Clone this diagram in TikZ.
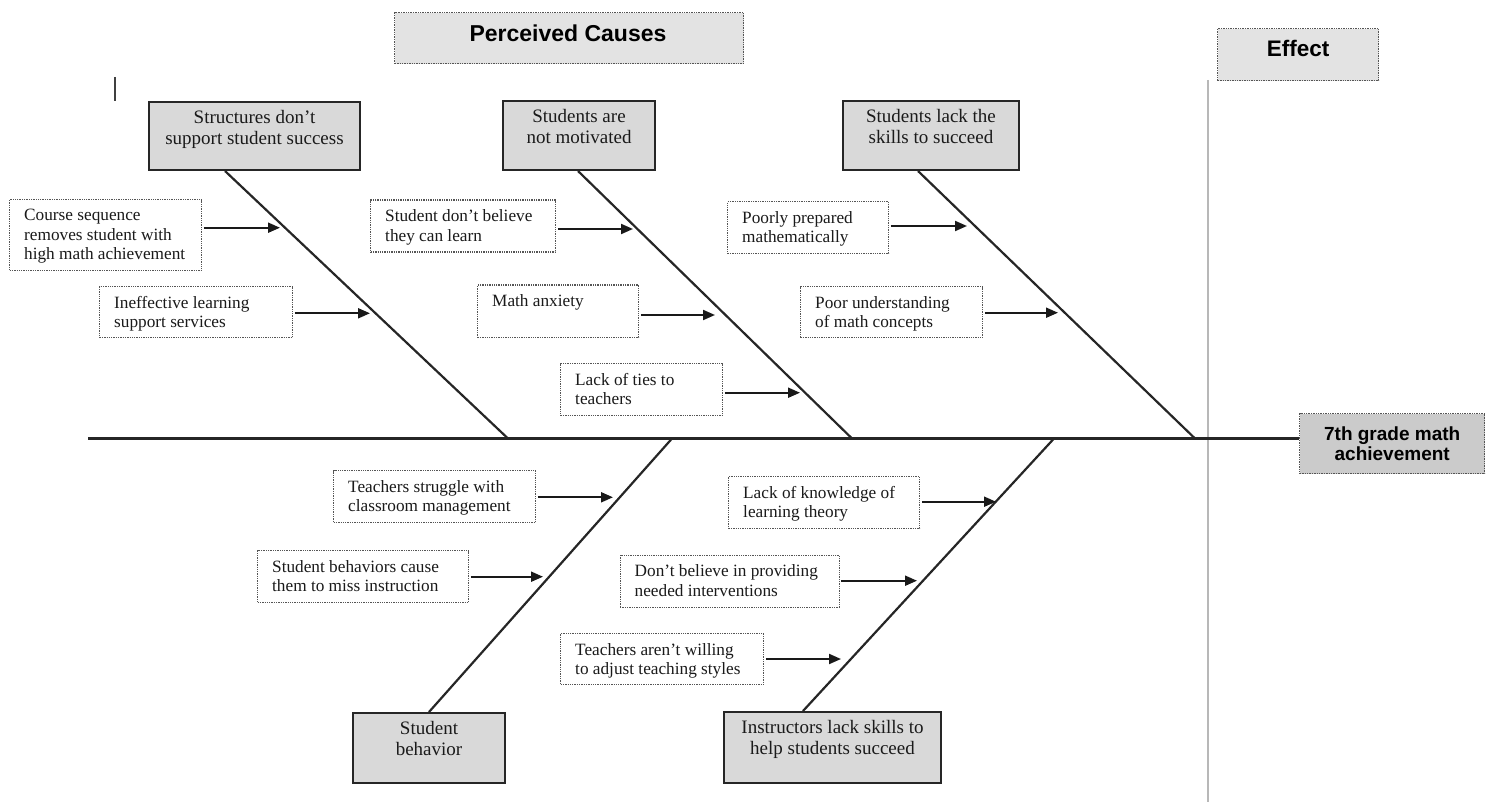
\documentclass[tikz,border=0pt]{standalone}
\usepackage{fontspec}
\setmainfont{Liberation Serif}
\newfontfamily\headfont{Liberation Sans}
\usetikzlibrary{arrows.meta}

\definecolor{ink}{HTML}{1A1A1A}
\definecolor{catfill}{HTML}{D9D9D9}
\definecolor{headfill}{HTML}{E3E3E3}
\definecolor{effectfill}{HTML}{CBCBCB}
\definecolor{dotline}{HTML}{555555}
\definecolor{rulegray}{HTML}{B8B8B8}

\tikzset{
  causebox/.style={draw=dotline, densely dotted, line width=1.3pt, fill=white,
    anchor=north west, inner sep=0pt},
  causetext/.style={anchor=north west, inner sep=0pt, align=left, text=ink,
    font=\fontsize{17.25}{19.5}\selectfont},
  catbox/.style={draw=black!85, line width=2pt, fill=catfill,
    anchor=north west, inner sep=0pt},
  cattext/.style={anchor=north, inner sep=0pt, align=center, text=ink,
    font=\fontsize{19}{21}\selectfont},
  headbox/.style={draw=dotline, densely dotted, line width=1.4pt, fill=headfill,
    anchor=north west, inner sep=0pt},
  headtext/.style={inner sep=0pt, text=black,
    font=\headfont\bfseries\fontsize{23}{26}\selectfont},
  effectbox/.style={draw=dotline, densely dotted, line width=1.4pt, fill=effectfill,
    anchor=north west, inner sep=0pt, align=center, text=black,
    font=\headfont\bfseries\fontsize{19}{20}\selectfont},
  bone/.style={draw=black!85, line width=2.2pt},
  causearrow/.style={draw=black!90, line width=2pt,
    -{Triangle[length=12pt,width=10pt]}},
}

\begin{document}
\begin{tikzpicture}[x=1pt,y=-1pt]
\useasboundingbox (0,0) rectangle (1491,802);

% headings
\node[headbox, minimum width=349pt, minimum height=51pt] (hcause) at (394,12) {};
\node[headtext] (hcauset) at (568,33.5) {Perceived Causes};
\node[headbox, minimum width=161pt, minimum height=52pt] (heffect) at (1217,28) {};
\node[headtext, font=\headfont\bfseries\fontsize{22.5}{26}\selectfont] (heffectt) at (1298,48) {Effect};

% divider between causes and effect, and the small stroke at the top left
\coordinate (divtop) at (1208,80);
\coordinate (divbot) at (1208,802);
\draw[rulegray, line width=1.5pt] (divtop) -- (divbot);
\coordinate (marktop) at (115,77);
\coordinate (markbot) at (115,101);
\draw[black!75, line width=1.8pt] (marktop) -- (markbot);

% effect
\node[effectbox, minimum width=185pt, minimum height=60pt] (eff) at (1299,413)
  {7th grade math\\achievement};

% spine
\coordinate (spinestart) at (88,438.5);
\draw[bone] (spinestart) -- (spinestart -| eff.west);

% category boxes
\node[catbox, minimum width=211pt, minimum height=68pt] (cat1) at (148,101) {};
\node[cattext] (cat1t) at ([yshift=-9pt]cat1.north) {Structures don’t\\support student success};
\node[catbox, minimum width=152pt, minimum height=69pt] (cat2) at (502,100) {};
\node[cattext] (cat2t) at ([yshift=-9pt]cat2.north) {Students are\\not motivated};
\node[catbox, minimum width=176pt, minimum height=69pt] (cat3) at (842,100) {};
\node[cattext] (cat3t) at ([yshift=-9pt]cat3.north) {Students lack the\\skills to succeed};
\node[catbox, minimum width=152pt, minimum height=70pt] (cat4) at (352,712) {};
\node[cattext] (cat4t) at ([yshift=-9pt]cat4.north) {Student\\behavior};
\node[catbox, minimum width=217pt, minimum height=71pt] (cat5) at (723,711) {};
\node[cattext] (cat5t) at ([yshift=-9pt]cat5.north) {Instructors lack skills to\\help students succeed};

% bones meeting the spine
\coordinate (s1) at (508,438.5);
\coordinate (s2) at (852,438.5);
\coordinate (s3) at (1195,438.5);
\coordinate (s4) at (672,438.5);
\coordinate (s5) at (1054,438.5);
\draw[bone] ([xshift=77pt]cat1.south west) -- (s1);
\draw[bone] ([xshift=76pt]cat2.south west) -- (s2);
\draw[bone] ([xshift=76pt]cat3.south west) -- (s3);
\draw[bone] ([xshift=77pt]cat4.north west) -- (s4);
\draw[bone] ([xshift=80pt]cat5.north west) -- (s5);

% causes: structures
\node[causebox, minimum width=192pt, minimum height=71pt] (c11) at (9,199) {};
\node[causetext] (c11t) at ([shift={(15pt,-10pt)}]c11.north west)
  {Course sequence\\removes student with\\high math achievement};
\node[causebox, minimum width=193pt, minimum height=51pt] (c12) at (99,286) {};
\node[causetext] (c12t) at ([shift={(15pt,-10pt)}]c12.north west)
  {Ineffective learning\\support services};

% causes: motivation
\node[causebox, minimum width=185pt, minimum height=52pt] (c21) at (370,199.5) {};
\node[causetext] (c21t) at ([shift={(15pt,-10pt)}]c21.north west)
  {Student don’t believe\\they can learn};
\node[causebox, minimum width=161pt, minimum height=52pt] (c22) at (477,284.5) {};
\node[causetext] (c22t) at ([shift={(15pt,-10pt)}]c22.north west)
  {Math anxiety};
\node[causebox, minimum width=162pt, minimum height=52pt] (c23) at (560,363) {};
\node[causetext] (c23t) at ([shift={(15pt,-10pt)}]c23.north west)
  {Lack of ties to\\teachers};

% causes: skills
\node[causebox, minimum width=161pt, minimum height=52pt] (c31) at (727,201) {};
\node[causetext] (c31t) at ([shift={(15pt,-10pt)}]c31.north west)
  {Poorly prepared\\mathematically};
\node[causebox, minimum width=182pt, minimum height=51pt] (c32) at (800,286) {};
\node[causetext] (c32t) at ([shift={(15pt,-10pt)}]c32.north west)
  {Poor understanding\\of math concepts};

% causes: behavior
\node[causebox, minimum width=202pt, minimum height=52pt] (c41) at (333,470) {};
\node[causetext] (c41t) at ([shift={(15pt,-10pt)}]c41.north west)
  {Teachers struggle with\\classroom management};
\node[causebox, minimum width=211pt, minimum height=52pt] (c42) at (257,550) {};
\node[causetext] (c42t) at ([shift={(15pt,-10pt)}]c42.north west)
  {Student behaviors cause\\them to miss instruction};

% causes: instructors
\node[causebox, minimum width=191pt, minimum height=52pt] (c51) at (728,476) {};
\node[causetext] (c51t) at ([shift={(15pt,-10pt)}]c51.north west)
  {Lack of knowledge of\\learning theory};
\node[causebox, minimum width=219pt, minimum height=52pt] (c52) at (619.5,554.5) {};
\node[causetext] (c52t) at ([shift={(15pt,-10pt)}]c52.north west)
  {Don’t believe in providing\\needed interventions};
\node[causebox, minimum width=203pt, minimum height=51pt] (c53) at (560,633) {};
\node[causetext] (c53t) at ([shift={(15pt,-10pt)}]c53.north west)
  {Teachers aren’t willing\\to adjust teaching styles};

% arrow tips next to the bones
\coordinate (t11) at (280,227.7);
\coordinate (t12) at (370,313.3);
\coordinate (t21) at (633,229);
\coordinate (t22) at (715,315);
\coordinate (t23) at (800,392.7);
\coordinate (t31) at (967,226);
\coordinate (t32) at (1058,312.7);
\coordinate (t41) at (613,497.3);
\coordinate (t42) at (543,576.7);
\coordinate (t51) at (996,501.7);
\coordinate (t52) at (917,580.7);
\coordinate (t53) at (841,659);

\foreach \c in {11,12,21,22,23,31,32,41,42,51,52,53}
  \draw[causearrow] ([xshift=1.5pt]c\c.east |- t\c) -- (t\c);

\end{tikzpicture}
\end{document}
